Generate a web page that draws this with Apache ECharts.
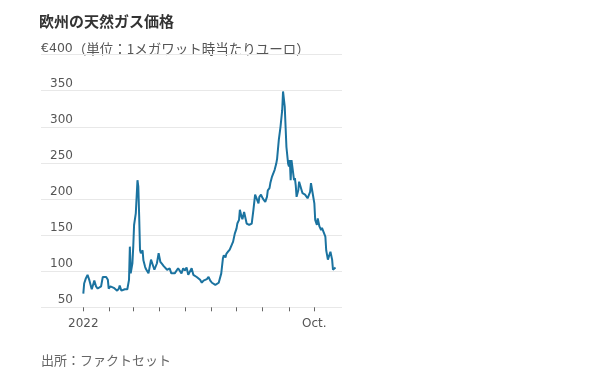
<!DOCTYPE html>
<html>
<head>
<meta charset="utf-8">
<script src="https://cdn.jsdelivr.net/npm/echarts@6/dist/echarts.min.js"></script>
<style>
html,body{margin:0;padding:0;background:#fff;}
#chart{width:612px;height:379px;}
</style>
</head>
<body>
<div id="chart"></div>
<script>
var titleText = '欧州の天然ガス価格';
var unitPrefix = '€400';
var unitText = '（単位：1メガワット時当たりユーロ）';
var sourceText = '出所：ファクトセット';

var dates = [
'2022-01-01','2022-01-02','2022-01-04','2022-01-06','2022-01-08','2022-01-10','2022-01-11','2022-01-13','2022-01-14','2022-01-16',
'2022-01-18','2022-01-20','2022-01-22','2022-01-24','2022-01-25','2022-01-28','2022-01-30','2022-01-31','2022-02-02','2022-02-04',
'2022-02-06','2022-02-08','2022-02-10','2022-02-12','2022-02-13','2022-02-15','2022-02-17','2022-02-19','2022-02-20','2022-02-22',
'2022-02-24','2022-02-25','2022-02-26','2022-02-27','2022-02-28','2022-03-01','2022-03-02','2022-03-03','2022-03-04','2022-03-06',
'2022-03-07','2022-03-08','2022-03-09','2022-03-10','2022-03-12','2022-03-13','2022-03-15','2022-03-16','2022-03-18','2022-03-19',
'2022-03-21','2022-03-22','2022-03-24','2022-03-26','2022-03-27','2022-03-29','2022-03-31','2022-04-02','2022-04-04','2022-04-06',
'2022-04-08','2022-04-10','2022-04-11','2022-04-13','2022-04-15','2022-04-17','2022-04-19','2022-04-21','2022-04-23','2022-04-25',
'2022-04-27','2022-04-29','2022-05-01','2022-05-03','2022-05-05','2022-05-07','2022-05-09','2022-05-11','2022-05-13','2022-05-15',
'2022-05-17','2022-05-19','2022-05-21','2022-05-23','2022-05-25','2022-05-27','2022-05-29','2022-05-31','2022-06-02','2022-06-04',
'2022-06-06','2022-06-08','2022-06-10','2022-06-12','2022-06-13','2022-06-15','2022-06-16','2022-06-18','2022-06-19','2022-06-21',
'2022-06-23','2022-06-25','2022-06-27','2022-06-29','2022-07-01','2022-07-02','2022-07-04','2022-07-05','2022-07-07','2022-07-08',
'2022-07-10','2022-07-12','2022-07-13','2022-07-15','2022-07-16','2022-07-18','2022-07-19','2022-07-21','2022-07-23','2022-07-25',
'2022-07-27','2022-07-28','2022-07-30','2022-07-31','2022-08-02','2022-08-04','2022-08-06','2022-08-07','2022-08-09','2022-08-10',
'2022-08-12','2022-08-14','2022-08-15','2022-08-17','2022-08-18','2022-08-20','2022-08-21','2022-08-22','2022-08-24','2022-08-25',
'2022-08-27','2022-08-28','2022-08-29','2022-08-31','2022-09-01','2022-09-02','2022-09-03','2022-09-04','2022-09-05','2022-09-07',
'2022-09-08','2022-09-09','2022-09-10','2022-09-12','2022-09-13','2022-09-15','2022-09-17','2022-09-18','2022-09-20','2022-09-21',
'2022-09-23','2022-09-24','2022-09-26','2022-09-27','2022-09-29','2022-10-01','2022-10-02','2022-10-04','2022-10-05','2022-10-06',
'2022-10-07','2022-10-09','2022-10-10','2022-10-12','2022-10-14','2022-10-15','2022-10-17','2022-10-18','2022-10-20','2022-10-22',
'2022-10-23','2022-10-25','2022-10-26'
];

var prices = [
69,83,90,95,88,79,75,83,87,79,
76,75,79,92,92,92,88,76,79,81,
77,75,73,76,80,73,71,75,74,75,
88,134,97,95,111,134,164,164,180,226,
217,176,129,125,129,115,106,103,105,97,
99,116,109,102,104,111,125,113,110,107,
105,102,103,104,97,95,97,95,104,102,
97,104,101,105,95,97,104,95,93,92,
92,88,84,87,88,89,92,87,84,82,
81,83,84,85,97,118,122,119,124,127,
130,129,141,152,159,166,171,185,175,172,
182,180,166,164,164,162,166,185,206,206,
194,203,206,203,199,196,203,212,215,222,
231,233,240,249,256,282,283,300,323,349,
328,300,272,249,245,254,226,254,245,226,
229,219,203,212,224,222,208,206,206,208,
201,203,210,222,208,194,171,164,173,175,
162,157,160,158,148,129,116,116,127,116,
102,102,105
];

var yTicks = [50, 100, 150, 200, 250, 300, 350, 400];
var monthTicks = ['2022-01-01','2022-02-01','2022-03-01','2022-04-01','2022-05-01','2022-06-01','2022-07-01','2022-08-01','2022-09-01','2022-10-01'];
var xLabelDates = ['2022-01-01', '2022-10-01'];
var xLabelTexts = ['2022', 'Oct.'];
var xRange = ['2021-11-12', '2022-11-02'];

var ts = function (s) { return new Date(s + 'T00:00:00Z').getTime(); };
var seriesData = dates.map(function (d, i) { return [ts(d), prices[i]]; });
var labelMap = {};
xLabelDates.forEach(function (d, i) { labelMap[ts(d)] = xLabelTexts[i]; });

var chart = echarts.init(document.getElementById('chart'), null, {renderer: 'canvas'});
var numFont = "'DejaVu Sans', 'Noto Sans CJK JP', sans-serif";
var jpFont = "'Noto Sans CJK JP', sans-serif";

chart.setOption({
  animation: false,
  backgroundColor: '#ffffff',
  title: {
    text: titleText,
    left: 34,
    top: 7,
    textStyle: {fontFamily: jpFont, fontSize: 15, fontWeight: 'bold', color: '#333333', lineHeight: 18}
  },
  grid: {left: 41, right: 270, top: 54.6, bottom: 71.7, containLabel: false},
  xAxis: {
    type: 'value',
    min: ts(xRange[0]),
    max: ts(xRange[1]) + 16 * 3600 * 1000,
    axisLine: {show: false},
    splitLine: {show: false},
    axisTick: {
      show: true, length: 4, inside: false,
      customValues: monthTicks.map(ts),
      lineStyle: {color: '#666666', width: 1}
    },
    axisLabel: {
      customValues: xLabelDates.map(ts),
      formatter: function (v) { return labelMap[v] || ''; },
      fontFamily: numFont, fontSize: 12, color: '#555555', margin: 11
    }
  },
  yAxis: {
    type: 'value',
    min: 50, max: 400, interval: 50,
    axisLine: {show: false},
    axisTick: {show: false},
    splitLine: {show: true, lineStyle: {color: '#e8e8e8', width: 1}},
    axisLabel: {
      inside: true,
      align: 'right',
      margin: 32,
      verticalAlign: 'bottom',
      padding: [0, 0, 1, 0],
      fontFamily: numFont, fontSize: 12, color: '#555555',
      formatter: function (v) { return v === 400 ? '' : String(v); }
    }
  },
  graphic: [
    {
      type: 'text', left: 41, top: 42,
      style: {
        text: '{n|' + unitPrefix + '}{j|' + unitText + '}',
        rich: {
          n: {fontFamily: numFont, fontSize: 12.5, fill: '#555555'},
          j: {fontFamily: jpFont, fontSize: 13.5, fill: '#555555'}
        }
      }
    },
    {
      type: 'text', left: 41, top: 354,
      style: {text: sourceText, fontFamily: jpFont, fontSize: 13, fill: '#666666'}
    }
  ],
  series: [{
    type: 'line',
    data: seriesData,
    showSymbol: false,
    symbol: 'none',
    lineStyle: {color: '#1b73a0', width: 2},
    z: 5
  }]
});
</script>
</body>
</html>
